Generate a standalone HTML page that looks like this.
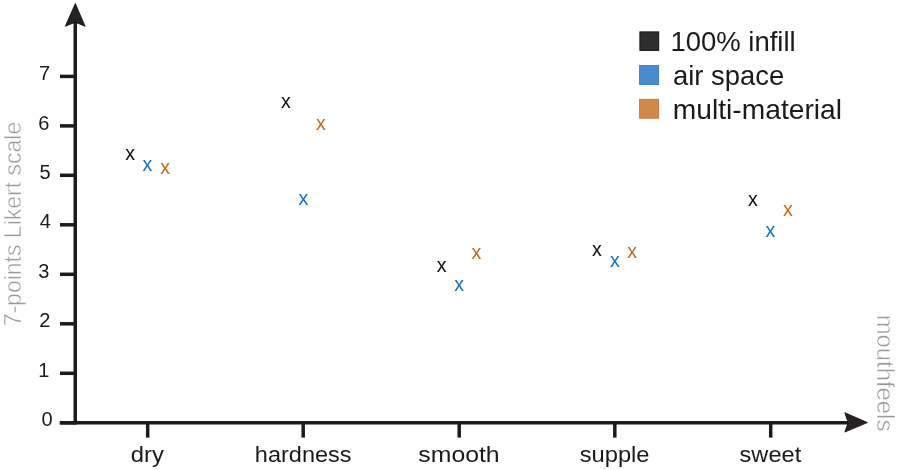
<!DOCTYPE html>
<html>
<head>
<meta charset="utf-8">
<style>
html,body{margin:0;padding:0;background:#fff;width:898px;height:470px;overflow:hidden}
svg{display:block}
text{font-family:"Liberation Sans",Arial,sans-serif}
.tk{font-size:20px;fill:#1a1a1a;text-anchor:middle}
.cat{font-size:22.7px;fill:#1a1a1a;text-anchor:middle}
.lg{font-size:28px;fill:#1a1a1a}
.ttl{font-size:24.5px;fill:#999;stroke:#fff;stroke-width:0.5px}
.m{font-size:19.6px;text-anchor:middle}
</style>
</head>
<body>
<svg width="898" height="470" viewBox="0 0 898 470">
<g stroke="#1c1a1a" stroke-width="3.5" fill="none">
  <line x1="75.25" y1="22" x2="75.25" y2="424.5"/>
  <line x1="59.7" y1="422.8" x2="848" y2="422.8"/>
  <!-- y ticks -->
  <line x1="60" y1="422.8" x2="75" y2="422.8"/>
  <line x1="60" y1="373.3" x2="75" y2="373.3"/>
  <line x1="60" y1="323.8" x2="75" y2="323.8"/>
  <line x1="60" y1="274.3" x2="75" y2="274.3"/>
  <line x1="60" y1="224.8" x2="75" y2="224.8"/>
  <line x1="60" y1="175.3" x2="75" y2="175.3"/>
  <line x1="60" y1="125.9" x2="75" y2="125.9"/>
  <line x1="60" y1="76.4" x2="75" y2="76.4"/>
  <!-- x ticks -->
  <line x1="147.7" y1="422" x2="147.7" y2="437.6"/>
  <line x1="303.2" y1="422" x2="303.2" y2="437.6"/>
  <line x1="459.2" y1="422" x2="459.2" y2="437.6"/>
  <line x1="614.8" y1="422" x2="614.8" y2="437.6"/>
  <line x1="770.7" y1="422" x2="770.7" y2="437.6"/>
</g>
<path d="M75.3 3.6 L85.1 26.3 L75.3 22.2 L65.3 26.3 Z" fill="#262222" stroke="#0a0a0a" stroke-width="0.8" stroke-miterlimit="10"/>
<path d="M867.4 422.6 L844.8 432.1 L848.2 422.6 L844.8 412.7 Z" fill="#262222" stroke="#0a0a0a" stroke-width="0.8" stroke-miterlimit="10"/>

<!-- y tick labels -->
<text class="tk" x="47.0" y="426.4">0</text>
<text class="tk" x="43.8" y="376.9">1</text>
<text class="tk" x="44.8" y="327.4">2</text>
<text class="tk" x="43.8" y="277.9">3</text>
<text class="tk" x="45.2" y="228.4">4</text>
<text class="tk" x="45.0" y="178.9">5</text>
<text class="tk" x="43.9" y="129.5">6</text>
<text class="tk" x="44.5" y="80">7</text>

<!-- category labels -->
<text id="t_dry" class="cat" textLength="33.03" lengthAdjust="spacingAndGlyphs" x="147.40" y="461.8">dry</text>
<text id="t_hard" class="cat" textLength="96.74" lengthAdjust="spacingAndGlyphs" x="303.20" y="461.8">hardness</text>
<text id="t_smooth" class="cat" textLength="81.24" lengthAdjust="spacingAndGlyphs" x="459.00" y="461.8">smooth</text>
<text id="t_supple" class="cat" textLength="69.87" lengthAdjust="spacingAndGlyphs" x="614.60" y="461.8">supple</text>
<text id="t_sweet" class="cat" textLength="61.62" lengthAdjust="spacingAndGlyphs" x="770.40" y="461.8">sweet</text>

<!-- axis titles -->
<text id="t_yt" class="ttl" textLength="204.53" lengthAdjust="spacingAndGlyphs" transform="translate(20.60 224.10) rotate(-90)" text-anchor="middle">7-points Likert scale</text>
<text id="t_xt" class="ttl" style="font-size:23.5px" textLength="116.65" lengthAdjust="spacingAndGlyphs" transform="translate(877.20 373.00) rotate(90)" text-anchor="middle">mouthfeels</text>

<!-- markers -->
<g class="m">
<text x="130.10" y="160" fill="#111">x</text>
<text x="147.49" y="171" fill="#1a6ec6">x</text>
<text x="165.16" y="174" fill="#c8691c">x</text>

<text x="285.80" y="108" fill="#111">x</text>
<text x="303.40" y="205" fill="#1a6ec6">x</text>
<text x="320.95" y="130" fill="#c8691c">x</text>

<text x="441.60" y="272" fill="#111">x</text>
<text x="459.09" y="291" fill="#1a6ec6">x</text>
<text x="476.50" y="259" fill="#c8691c">x</text>

<text x="597.00" y="256" fill="#111">x</text>
<text x="614.95" y="267" fill="#1a6ec6">x</text>
<text x="632.16" y="258" fill="#c8691c">x</text>

<text x="752.80" y="206" fill="#111">x</text>
<text x="770.30" y="237" fill="#1a6ec6">x</text>
<text x="787.80" y="216" fill="#c8691c">x</text>
</g>

<!-- legend -->
<rect x="639.9" y="31.9" width="18.8" height="18.5" fill="#2e2e2e" stroke="#151515" stroke-width="1"/>
<rect x="639.6" y="65.6" width="19" height="18.8" fill="#4a8bd0" stroke="#3a7fc8" stroke-width="1"/>
<rect x="639.6" y="99.4" width="19" height="18.8" fill="#d08a48" stroke="#c97d38" stroke-width="1"/>
<text id="t_lg1" class="lg" textLength="125.22" lengthAdjust="spacingAndGlyphs" x="670.40" y="50.7">100% infill</text>
<text id="t_lg2" class="lg" textLength="111.22" lengthAdjust="spacingAndGlyphs" x="673.00" y="85">air space</text>
<text id="t_lg3" class="lg" textLength="169.20" lengthAdjust="spacingAndGlyphs" x="672.80" y="119">multi-material</text>
</svg>
</body>
</html>
